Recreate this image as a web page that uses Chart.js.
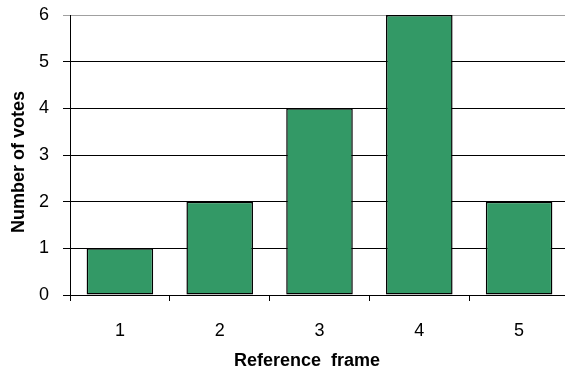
<!DOCTYPE html>
<html>
<head>
<meta charset="utf-8">
<script src="https://cdn.jsdelivr.net/npm/chart.js@4/dist/chart.umd.min.js"></script>
<style>
  html, body { margin: 0; padding: 0; background: #fff; overflow: hidden; }
  #wrap { width: 565px; height: 371px; overflow: hidden; }
  canvas { display: block; }
</style>
</head>
<body>
<div id="wrap"><canvas id="chart" width="570" height="371"></canvas></div>
<script>
// Votes per reference frame
const categories = ['1', '2', '3', '4', '5'];
const votes = [1, 2, 4, 6, 2];
const yTickValues = [0, 1, 2, 3, 4, 5, 6];

const xTitle = 'Reference  frame';
const yTitle = 'Number of votes';

const FONT = '"Liberation Sans", Arial, sans-serif';

// Axis titles, centred on the whole chart the way office charts place them
const axisTitles = {
  id: 'axisTitles',
  afterDraw(chart) {
    const { ctx } = chart;
    ctx.save();
    ctx.fillStyle = '#000';
    ctx.font = 'bold 18px ' + FONT;
    ctx.textAlign = 'center';
    ctx.textBaseline = 'alphabetic';
    ctx.fillText(xTitle, 307, 366);
    ctx.translate(24, 162);
    ctx.rotate(-Math.PI / 2);
    ctx.fillText(yTitle, 0, 0);
    ctx.restore();
  }
};

new Chart(document.getElementById('chart'), {
  type: 'bar',
  data: {
    labels: categories,
    datasets: [{
      data: votes,
      backgroundColor: '#339966',
      borderColor: '#000',
      borderWidth: 1.5,
      borderSkipped: false,
      barPercentage: 0.667,
      categoryPercentage: 1
    }]
  },
  options: {
    responsive: false,
    animation: false,
    layout: { padding: { top: 15, right: 1, left: 0, bottom: 0 } },
    plugins: { legend: { display: false }, tooltip: { enabled: false } },
    scales: {
      x: {
        offset: true,
        grid: {
          offset: true,
          drawOnChartArea: false,
          drawTicks: true,
          tickLength: 6,
          color: '#000',
          lineWidth: 1
        },
        border: { display: true, color: '#000', width: 1 },
        ticks: { color: '#000', font: { family: FONT, size: 18 }, padding: 19 },
        afterFit(scale) {
          scale.height = 76;
          scale.paddingLeft = 0;
          scale.paddingRight = 0;
        }
      },
      y: {
        min: 0,
        max: 6,
        afterBuildTicks(scale) { scale.ticks = yTickValues.map(v => ({ value: v })); },
        grid: {
          color: ctx => (ctx.tick && ctx.tick.value === 6) ? '#a0a0a0' : '#000',
          lineWidth: 1,
          tickLength: 7,
          drawTicks: true
        },
        border: { display: true, color: '#000', width: 1 },
        ticks: { color: '#000', font: { family: FONT, size: 18 }, padding: 14 },
        afterFit(scale) {
          scale.width = 70;
          scale.paddingTop = 0;
          scale.paddingBottom = 0;
        }
      }
    }
  },
  plugins: [axisTitles]
});
</script>
</body>
</html>
